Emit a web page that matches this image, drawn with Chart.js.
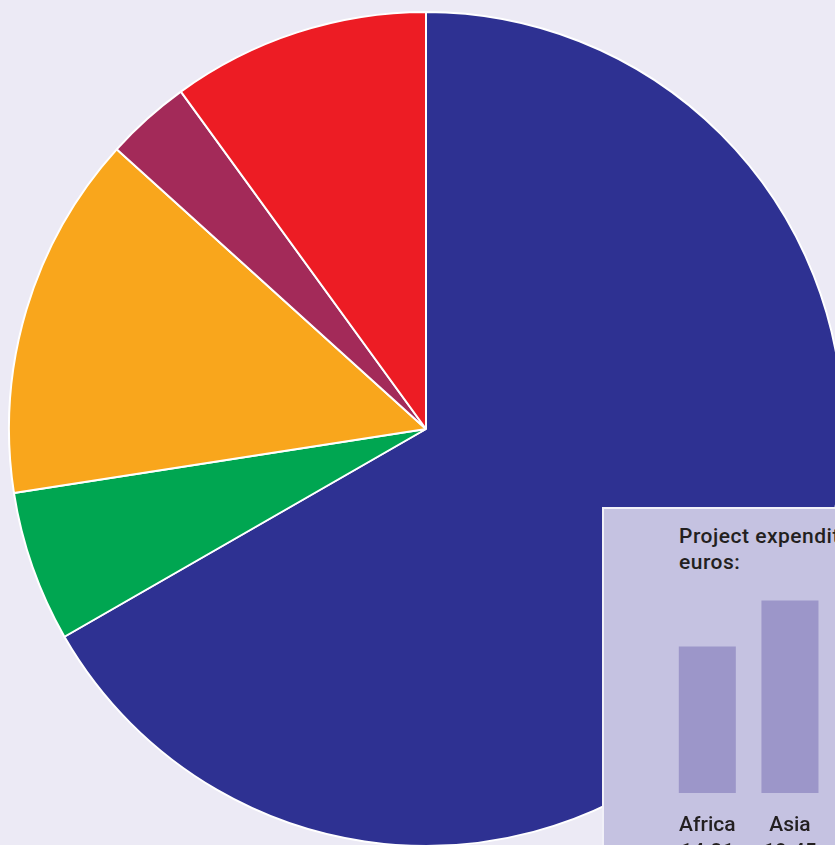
<!DOCTYPE html>
<html>
<head>
<meta charset="utf-8">
<script src="https://cdn.jsdelivr.net/npm/chart.js@4"></script>
<style>
  html, body { margin: 0; padding: 0; background: #eceaf5; overflow: hidden; }
  #stage { position: relative; width: 835px; height: 845px; overflow: hidden; }
  #pie { position: absolute; left: 0; top: 0; }
  #inset {
    position: absolute; left: 602px; top: 507px; width: 300px; height: 400px;
    background: #c5c2e1; border-left: 2px solid #f1f0f8; border-top: 2px solid #f1f0f8;
  }
  #inset-title {
    position: absolute; left: 679px; top: 523px; white-space: nowrap; letter-spacing: 0.5px;
    font: 500 21px/26px Roboto, "Liberation Sans", sans-serif; color: #231f20;
  }
  #bars { position: absolute; left: 604px; top: 580px; }
</style>
</head>
<body>
<div id="stage">
  <canvas id="pie" width="852" height="858" style="width:852px;height:858px"></canvas>
  <div id="inset"></div>
  <div id="inset-title">Project expenditure in million<br>euros:</div>
  <canvas id="bars" width="233" height="300" style="width:233px;height:300px"></canvas>
</div>
<script>
  // pie shares (%), clockwise from 12 o'clock
  const sliceLabels = ["Blue", "Green", "Orange", "Maroon", "Red"];
  const sliceValues = [66.7, 5.85, 14.15, 3.3, 10.0];
  const sliceColors = ["#2e3192", "#00a651", "#f9a61c", "#a32a59", "#ed1c24"];

  // inset bars: project expenditure, million euros
  const regions = ["Africa", "Asia"];
  const expenditure = [14.81, 19.45];
  const expenditureText = ["14.81", "19.45"];

  new Chart(document.getElementById("pie").getContext("2d"), {
    type: "pie",
    data: {
      labels: sliceLabels,
      datasets: [
        {
          data: sliceValues,
          backgroundColor: sliceColors,
          borderColor: "#ffffff",
          borderWidth: 2,
        },
      ],
    },
    options: {
      responsive: false,
      animation: false,
      layout: { padding: { left: 8, top: 11, right: 8, bottom: 11 } },
      plugins: { legend: { display: false }, tooltip: { enabled: false } },
    },
  });

  new Chart(document.getElementById("bars").getContext("2d"), {
    type: "bar",
    data: {
      labels: regions.map((r, i) => [r, expenditureText[i]]),
      datasets: [
        {
          data: expenditure,
          backgroundColor: "#9c96c9",
          categoryPercentage: 1,
          barPercentage: 0.69,
        },
      ],
    },
    options: {
      responsive: false,
      animation: false,
      layout: { padding: { left: 62, top: 15, right: 1, bottom: 0 } },
      plugins: { legend: { display: false }, tooltip: { enabled: false } },
      scales: {
        x: {
          grid: { display: false, drawTicks: false },
          border: { display: false },
          ticks: {
            color: "#231f20",
            padding: 20,
            maxRotation: 0,
            font: { family: "Roboto", weight: "500", size: 21, lineHeight: 1.25 },
          },
          afterFit: (scale) => { scale.height = 87; },
        },
        y: { display: false, min: 0, max: 20 },
      },
    },
  });
</script>
</body>
</html>
